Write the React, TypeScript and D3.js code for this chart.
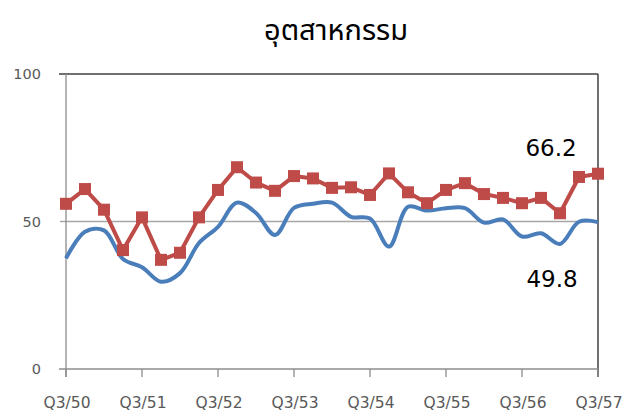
import React from "react";
import * as d3 from "d3";

const quarters: string[] = [
  "Q3/50","Q4/50","Q1/51","Q2/51","Q3/51","Q4/51","Q1/52","Q2/52","Q3/52","Q4/52","Q1/53","Q2/53","Q3/53","Q4/53","Q1/54","Q2/54","Q3/54","Q4/54","Q1/55","Q2/55","Q3/55","Q4/55","Q1/56","Q2/56","Q3/56","Q4/56","Q1/57","Q2/57","Q3/57",
];
const redSeries: number[] = [
  56, 61, 54, 40.3, 51.4, 37, 39.4, 51.4, 60.7, 68.4, 63.2, 60.4, 65.4, 64.6, 61.4, 61.6, 59, 66.3, 59.9, 56.2, 60.7, 63, 59.3, 58, 56.2, 58, 52.8, 65.1, 66.2,
];
const blueSeries: number[] = [
  37.5, 46.5, 47, 37.3, 34.5, 29.6, 32.5, 42.7, 48.2, 56.4, 52.9, 45.4, 54.6, 56, 56.4, 51.6, 51, 41.5, 55, 53.7, 54.5, 54.5, 49.6, 50.7, 44.9, 46, 42.4, 49.9, 49.8,
];
const yTicks: number[] = [0, 50, 100];
const xTickLabels: string[] = ["Q3/50","Q3/51","Q3/52","Q3/53","Q3/54","Q3/55","Q3/56","Q3/57"];
const title = "อุตสาหกรรม";

export default function App() {
  const W = 625, H = 412;
  const x = d3.scaleLinear().domain([0, quarters.length - 1]).range([66, 598]);
  const y = d3.scaleLinear().domain([0, 100]).range([369, 74]);
  const idx = quarters.map((_, i) => i);

  const redLine = d3.line<number>().x((i) => x(i)).y((i) => y(redSeries[i]));
  const blueLine = d3
    .line<number>()
    .x((i) => x(i))
    .y((i) => y(blueSeries[i]))
    .curve(d3.curveCatmullRom.alpha(0.5));

  const font = "'DejaVu Sans', 'Noto Sans', sans-serif";
  const thaiFont = "'Noto Sans Thai', 'Noto Sans', 'DejaVu Sans', sans-serif";
  const last = quarters.length - 1;

  return (
    <svg width={W} height={H} style={{ position: "absolute", left: 0, top: 0, background: "#fff" }}>
      <rect x={0} y={0} width={W} height={H} fill="#fff" />
      <text x={336} y={40} textAnchor="middle" fontFamily={thaiFont} fontSize={29} fill="#000">
        {title}
      </text>
      <line x1={60} x2={598} y1={y(50)} y2={y(50)} stroke="#a6a6a6" strokeWidth={1.3} />
      <line x1={59} x2={598} y1={y(100)} y2={y(100)} stroke="#404040" strokeWidth={1.5} />
      <line x1={598} x2={598} y1={y(100)} y2={377} stroke="#404040" strokeWidth={1.5} />
      <line x1={66} x2={66} y1={y(100)} y2={377} stroke="#8c8c8c" strokeWidth={1.3} />
      <line x1={59} x2={598} y1={y(0)} y2={y(0)} stroke="#8c8c8c" strokeWidth={1.3} />
      {xTickLabels.map((lab) => {
        const i = quarters.indexOf(lab);
        return (
          <g key={lab}>
            <line x1={x(i)} x2={x(i)} y1={y(0)} y2={377} stroke="#8c8c8c" strokeWidth={1.3} />
            <text x={x(i) + 1} y={408} textAnchor="middle" fontFamily={font} fontSize={15.5} fill="#595959">
              {lab}
            </text>
          </g>
        );
      })}
      {yTicks.map((t) => (
        <text key={t} x={41} y={y(t) + 5} textAnchor="end" fontFamily={font} fontSize={14.5} fill="#595959">
          {t}
        </text>
      ))}
      <path d={blueLine(idx) || ""} fill="none" stroke="#4a7ebb" strokeWidth={4} strokeLinejoin="round" />
      <path d={redLine(idx) || ""} fill="none" stroke="#be4b48" strokeWidth={4} strokeLinejoin="round" />
      {idx.map((i) => (
        <rect key={i} x={x(i) - 6} y={y(redSeries[i]) - 6} width={12} height={12} fill="#be4b48" />
      ))}
      <text x={551} y={156} textAnchor="middle" fontFamily={font} fontSize={23} fill="#000">
        {redSeries[last].toFixed(1)}
      </text>
      <text x={552} y={287} textAnchor="middle" fontFamily={font} fontSize={23} fill="#000">
        {blueSeries[last].toFixed(1)}
      </text>
    </svg>
  );
}
